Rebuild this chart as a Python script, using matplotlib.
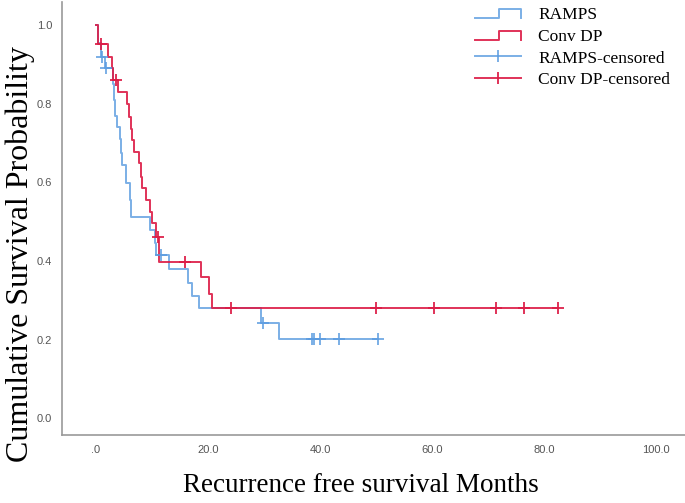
import numpy as np
import matplotlib
matplotlib.use("Agg")
import matplotlib.pyplot as plt
from matplotlib.lines import Line2D
from matplotlib.legend_handler import HandlerBase

# -----------------------------------------------------
# Data
# -----------------------------------------------------
ramps_times = [0.0, 0.3, 0.9, 1.6, 3.0, 3.3, 3.4, 3.8, 4.3, 4.5, 4.7, 5.4, 6.1, 6.2,
               9.6, 10.5, 10.8, 13.0, 16.4, 17.1, 18.4, 29.5, 32.7]
ramps_surv = [1.0, 0.955, 0.92, 0.89, 0.85, 0.81, 0.77, 0.74, 0.71, 0.675, 0.644, 0.598,
              0.555, 0.512, 0.478, 0.445, 0.414, 0.38, 0.345, 0.31, 0.279, 0.243, 0.202]
ramps_censor = [1.0, 1.8, 11.7, 29.8, 38.5, 38.9, 40.0, 43.4, 50.4]

conv_times = [0.0, 0.3, 2.1, 2.8, 3.1, 3.9, 5.5, 5.9, 6.2, 6.4, 6.8, 7.6, 8.1, 8.3,
              8.9, 9.6, 10.05, 10.7, 11.2, 11.3, 18.75, 20.2, 20.8]
conv_surv = [1.0, 0.951, 0.92, 0.89, 0.86, 0.83, 0.80, 0.767, 0.737, 0.708, 0.678, 0.65,
             0.614, 0.585, 0.555, 0.525, 0.496, 0.461, 0.43, 0.397, 0.358, 0.317, 0.279]
conv_censor = [0.85, 3.6, 11.0, 15.9, 24.05, 50.1, 60.4, 71.4, 76.4, 82.5]

x_ticks = [0, 20, 40, 60, 80, 100]
x_tick_labels = [".0", "20.0", "40.0", "60.0", "80.0", "100.0"]
y_ticks = [0.0, 0.2, 0.4, 0.6, 0.8, 1.0]
y_tick_labels = ["0.0", "0.2", "0.4", "0.6", "0.8", "1.0"]

BLUE = "#5a9be0"
RED = "#dc1c46"
SERIF = ["Liberation Serif", "DejaVu Serif"]


# -----------------------------------------------------
# Helpers
# -----------------------------------------------------
def surv_at(times, surv, t):
    idx = np.searchsorted(times, t, side="right") - 1
    return np.asarray(surv)[idx]


def draw_km(ax, times, surv, censor, color, alpha):
    t = np.append(times, max(censor))
    s = np.append(surv, surv[-1])
    ax.step(t, s, where="post", color=color, lw=1.4, alpha=alpha, zorder=3)
    ax.plot(censor, surv_at(times, surv, censor), ls="none", marker="+",
            ms=8, mew=1.4, color=color, alpha=alpha, zorder=4)


class StepHandler(HandlerBase):
    def create_artists(self, legend, orig_handle, xdescent, ydescent,
                       width, height, fontsize, trans):
        x0 = -xdescent
        lo = -ydescent + 0.1 * height
        hi = -ydescent + 0.8 * height
        xs = [x0, x0 + 0.52 * width, x0 + 0.52 * width, x0 + width, x0 + width]
        ys = [lo, lo, hi, hi, lo]
        line = Line2D(xs, ys, color=orig_handle.get_color(), lw=1.4,
                      alpha=orig_handle.get_alpha())
        line.set_transform(trans)
        return [line]


# -----------------------------------------------------
# Figure
# -----------------------------------------------------
fig = plt.figure(figsize=(6.85, 5.03), dpi=100)
ax = fig.add_axes([62 / 685, 68 / 503, 1 - 62 / 685, (435 - 2) / 503])

draw_km(ax, ramps_times, ramps_surv, ramps_censor, BLUE, 0.8)
draw_km(ax, conv_times, conv_surv, conv_censor, RED, 0.9)

ax.set_xlim(-6.07, 105.2)
ax.set_ylim(-0.043, 1.059)
ax.set_xticks(x_ticks, x_tick_labels)
ax.set_yticks(y_ticks, y_tick_labels)
ax.tick_params(length=0, labelsize=8, labelcolor="#555555", pad=7)
for lab in ax.get_xticklabels() + ax.get_yticklabels():
    lab.set_family(["Liberation Sans", "DejaVu Sans"])

for side in ["top", "right"]:
    ax.spines[side].set_visible(False)
for side in ["left", "bottom"]:
    ax.spines[side].set_color("#999999")
    ax.spines[side].set_linewidth(1.2)

fig.text(20 / 685, 1 - 254 / 503, "Cumulative Survival Probability",
         rotation=90, ha="center", va="center", fontsize=23, family=SERIF)
fig.text(361 / 685, 1 - 485 / 503, "Recurrence free survival Months",
         ha="center", va="center", fontsize=19.5, family=SERIF)

# legend
h_ramps = Line2D([], [], color=BLUE, alpha=0.8)
h_conv = Line2D([], [], color=RED, alpha=0.9)
h_ramps_c = Line2D([], [], color=BLUE, alpha=0.8, lw=1.4, marker="|", ms=9, mew=1.4)
h_conv_c = Line2D([], [], color=RED, alpha=0.9, lw=1.4, marker="|", ms=9, mew=1.4)
ax.legend([h_ramps, h_conv, h_ramps_c, h_conv_c],
          ["RAMPS", "Conv DP", "RAMPS-censored", "Conv DP-censored"],
          handler_map={h_ramps: StepHandler(), h_conv: StepHandler()},
          loc="upper left", bbox_to_anchor=(475 / 685, 1 - 7 / 503),
          bbox_transform=fig.transFigure, frameon=False, numpoints=1,
          prop={"family": SERIF, "size": 12.5}, handlelength=2.65,
          handletextpad=1.0, labelspacing=0.32, borderpad=0, borderaxespad=0)

fig.savefig("out.png", dpi=100)
